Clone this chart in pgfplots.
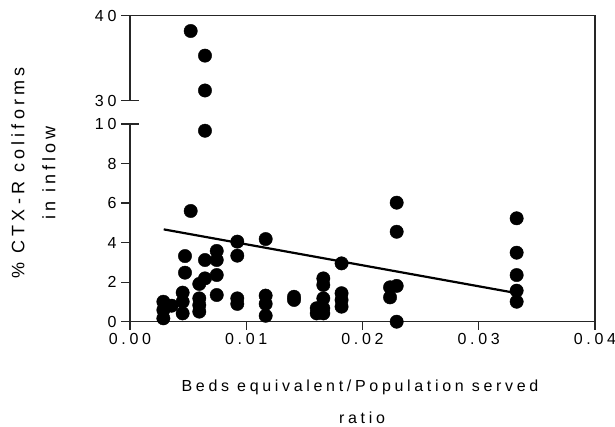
\documentclass[border=0pt]{standalone}
\usepackage{pgfplots}
\pgfplotsset{compat=1.18}
\usepackage{fontspec}
\setmainfont{Liberation Sans}[LetterSpace=23]
\pgfplotstableread{
x y
0.00287 1.01
0.00287 0.59
0.00287 0.17
0.00358 0.81
0.00473 3.32
0.00473 2.48
0.00453 1.47
0.00453 1.01
0.00453 0.42
0.00522 5.60
0.00596 1.91
0.00596 1.18
0.00596 0.84
0.00596 0.51
0.00645 9.66
0.00645 3.12
0.00645 2.19
0.00746 3.58
0.00746 3.12
0.00746 2.36
0.00746 1.35
0.00923 4.05
0.00923 3.34
0.00923 1.18
0.00923 0.90
0.01167 4.18
0.01167 1.32
0.01167 0.90
0.01167 0.30
0.01411 1.26
0.01411 1.10
0.01606 0.68
0.01606 0.42
0.01663 2.19
0.01663 1.86
0.01663 1.18
0.01663 0.68
0.01663 0.42
0.01820 2.95
0.01820 1.44
0.01820 1.10
0.01820 0.76
0.02237 1.74
0.02237 1.23
0.02294 6.02
0.02294 4.55
0.02294 1.81
0.02294 0.00
0.03326 5.23
0.03326 3.49
0.03326 2.36
0.03326 1.57
0.03326 1.01
}\lowdata
\pgfplotstableread{
x y
0.00522 38.2
0.00645 35.3
0.00645 31.2
}\highdata
\tikzset{ln/.style={line width=1.2pt, black!85, line cap=rect}}
\begin{document}
\begin{tikzpicture}
\useasboundingbox (0,0) rectangle (615pt,427pt);
\pgfplotsset{
  common/.style={
    scale only axis, width=465pt, xmin=0, xmax=0.04,
    scaled x ticks=false,
    /pgf/number format/assume math mode=true,
    tick label style={font=\fontsize{16}{19}\selectfont, black},
    clip=false,
    axis line style={draw=none},
    xtick pos=bottom, ytick pos=left,
    tick align=outside,
    major tick length=8pt,
    every tick/.style={line width=1.2pt, black},
    yticklabel style={xshift=-2pt},
  },
}
\begin{axis}[common, at={(130pt,105.3pt)}, anchor=south west, height=197.7pt,
  ymin=0, ymax=10,
  xtick={0,0.01,0.02,0.03,0.04},
  xticklabels={0.00,0.01,0.02,0.03,0.04},
  ytick={0,2,4,6,8},
  extra y ticks={10},
  extra y tick style={tick align=center, major tick length=16pt},
]
\draw[ln] (rel axis cs:0,1) -- (rel axis cs:0,0) -- (rel axis cs:1,0);
\draw[ln] (rel axis cs:1,0) -- ([yshift=23pt]rel axis cs:1,1);
\draw[ln] (axis cs:0,0) -- ([yshift=-8pt]axis cs:0,0);
\draw[ln] (axis cs:0.01,0) -- ([yshift=-8pt]axis cs:0.01,0);
\draw[ln] (axis cs:0.02,0) -- ([yshift=-8pt]axis cs:0.02,0);
\draw[ln] (axis cs:0.03,0) -- ([yshift=-8pt]axis cs:0.03,0);
\draw[ln] (axis cs:0.04,0) -- ([yshift=-8pt]axis cs:0.04,0);
\draw[ln] (axis cs:0,0) -- ([xshift=-8pt]axis cs:0,0);
\draw[ln] (axis cs:0,2) -- ([xshift=-8pt]axis cs:0,2);
\draw[ln] (axis cs:0,4) -- ([xshift=-8pt]axis cs:0,4);
\draw[ln] (axis cs:0,6) -- ([xshift=-8pt]axis cs:0,6);
\draw[ln] (axis cs:0,8) -- ([xshift=-8pt]axis cs:0,8);
\draw[ln] ([xshift=-8pt]axis cs:0,10) -- ([xshift=8pt]axis cs:0,10);
\addplot[only marks, mark=*, mark size=6.7pt, black] table[x=x,y=y] {\lowdata};
\addplot[black, line width=2.2pt, no marks] coordinates {(0.0029,4.67) (0.0333,1.44)};
\end{axis}
\begin{axis}[common, at={(130pt,326.3pt)}, anchor=south west, height=85pt,
  ymin=30, ymax=40,
  xtick=\empty,
  ytick={40},
  extra y ticks={30},
  extra y tick style={tick align=center, major tick length=16pt},
]
\draw[ln] (rel axis cs:0,0) -- (rel axis cs:0,1) -- (rel axis cs:1,1) -- (rel axis cs:1,0);
\draw[ln] (axis cs:0,40) -- ([xshift=-8pt]axis cs:0,40);
\draw[ln] ([xshift=-8pt]axis cs:0,30) -- ([xshift=8pt]axis cs:0,30);
\addplot[only marks, mark=*, mark size=6.7pt, black] table[x=x,y=y] {\highdata};
\end{axis}
\node[rotate=90, font=\fontsize{18}{21}\selectfont] at (18pt,254pt) {\% CTX-R coliforms};
\node[rotate=90, font=\fontsize{18}{21}\selectfont] at (49pt,254pt) {in inflow};
\node[font=\fontsize{16}{19}\selectfont] at (360pt,40pt) {Beds equivalent/Population served};
\node[font=\fontsize{16}{19}\selectfont] at (362pt,9pt) {ratio};
\end{tikzpicture}
\end{document}
